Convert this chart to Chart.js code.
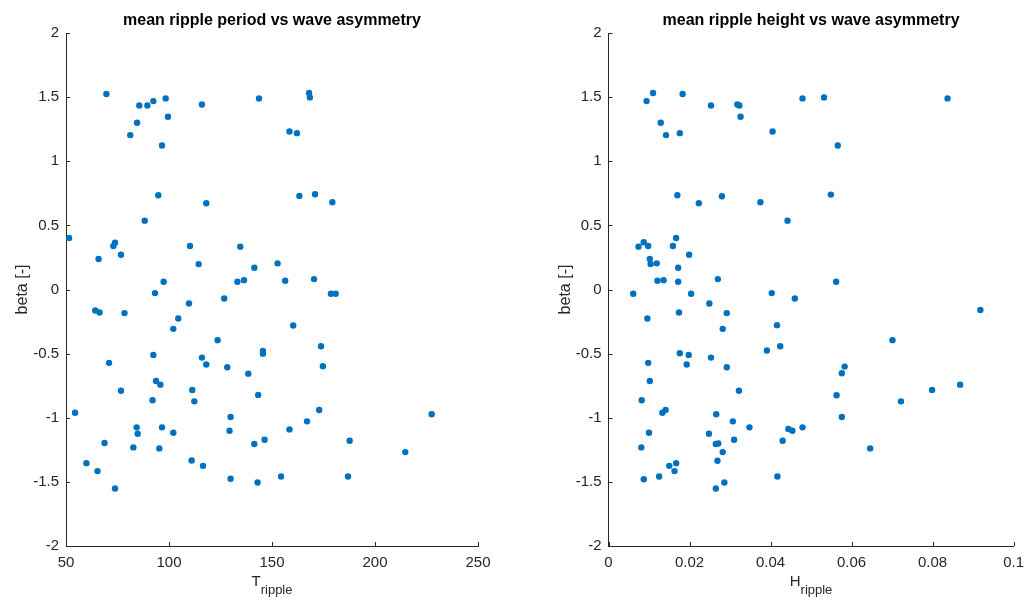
<!DOCTYPE html>
<html>
<head>
<meta charset="utf-8">
<title>ripple vs wave asymmetry</title>
<script src="https://cdn.jsdelivr.net/npm/chart.js@4.4.0/dist/chart.umd.min.js"></script>
<style>
    body { margin: 0; background: #fff; width: 1032px; height: 601px; overflow: hidden; position: relative; }
    .box { position: absolute; top: 0; width: 516px; height: 601px; }
</style>
</head>
<body>
<div class="box" style="left:0"><canvas id="periodChart" width="516" height="601"></canvas></div>
<div class="box" style="left:516px"><canvas id="heightChart" width="516" height="601"></canvas></div>
<script>
// mean ripple period (T_ripple) against beta
var period = [69.6, 85.6, 89.5, 92.4, 98.4, 116.0, 143.7, 84.5, 81.2, 99.5, 96.6, 94.8, 118.1, 88.2,
    51.5, 65.8, 73.0, 73.8, 76.7, 110.2, 114.4, 134.6, 141.4, 133.2, 136.4, 97.4, 93.2, 109.7, 126.8,
    64.2, 66.3, 78.4, 104.5, 102.1, 123.6, 92.4, 116.0, 118.1, 128.3, 138.5, 70.9, 93.7, 95.8, 76.7,
    111.3, 112.3, 92.0, 143.3, 54.4, 129.9, 84.3, 84.8, 96.6, 102.1, 129.4, 68.7, 82.7, 95.3, 141.4,
    59.9, 65.3, 111.0, 116.5, 73.8, 129.9, 143.0, 168.0, 168.4, 158.5, 162.1, 163.3, 170.9, 179.3,
    152.7, 156.4, 170.4, 178.6, 180.9, 160.3, 145.6, 145.6, 173.8, 174.7, 172.9, 167.0, 158.5, 146.4,
    187.7, 227.5, 214.7, 154.4, 186.9];
var betaT = [1.524, 1.435, 1.435, 1.469, 1.490, 1.443, 1.490, 1.300, 1.204, 1.347, 1.123, 0.735, 0.673, 0.537,
    0.402, 0.238, 0.339, 0.365, 0.271, 0.339, 0.198, 0.334, 0.170, 0.060, 0.073, 0.060, -0.028, -0.109, -0.070,
    -0.164, -0.179, -0.184, -0.226, -0.307, -0.395, -0.510, -0.531, -0.585, -0.606, -0.656, -0.572, -0.713, -0.742, -0.789,
    -0.783, -0.872, -0.864, -0.822, -0.961, -0.994, -1.075, -1.125, -1.075, -1.117, -1.101, -1.197, -1.231, -1.239, -1.205,
    -1.354, -1.416, -1.333, -1.375, -1.552, -1.476, -1.505, 1.532, 1.498, 1.232, 1.219, 0.730, 0.743, 0.680,
    0.204, 0.068, 0.081, -0.033, -0.033, -0.281, -0.479, -0.500, -0.442, -0.598, -0.940, -1.028, -1.091, -1.171,
    -1.179, -0.973, -1.268, -1.458, -1.458];

// mean ripple height (H_ripple) against beta
var rippleHeight = [0.0110, 0.0094, 0.0183, 0.0253, 0.0318, 0.0323, 0.0479, 0.0129, 0.0142, 0.0176, 0.0326, 0.0405,
    0.0170, 0.0223, 0.0280, 0.0375, 0.0442, 0.0074, 0.0087, 0.0098, 0.0167, 0.0159, 0.0102, 0.0104, 0.0119,
    0.0199, 0.0172, 0.0121, 0.0136, 0.0172, 0.0270, 0.0061, 0.0204, 0.0249, 0.0403, 0.0460, 0.0532, 0.0837,
    0.0566, 0.0549, 0.0562, 0.0918, 0.0096, 0.0174, 0.0292, 0.0282, 0.0416, 0.0424, 0.0391, 0.0098, 0.0176,
    0.0198, 0.0193, 0.0253, 0.0292, 0.0102, 0.0322, 0.0082, 0.0133, 0.0141, 0.0266, 0.0307, 0.0348, 0.0444,
    0.0454, 0.0479, 0.0100, 0.0248, 0.0310, 0.0430, 0.0265, 0.0271, 0.0081, 0.0282, 0.0269, 0.0150, 0.0167,
    0.0163, 0.0125, 0.0087, 0.0417, 0.0286, 0.0265, 0.0701, 0.0583, 0.0576, 0.0563, 0.0799, 0.0868, 0.0722,
    0.0576, 0.0646];
var betaH = [1.532, 1.469, 1.524, 1.435, 1.443, 1.435, 1.490, 1.300, 1.204, 1.219, 1.347, 1.232,
    0.735, 0.673, 0.727, 0.680, 0.537, 0.334, 0.368, 0.339, 0.402, 0.339, 0.238, 0.198, 0.204,
    0.271, 0.170, 0.068, 0.073, 0.060, 0.081, -0.033, -0.033, -0.109, -0.028, -0.070, 1.498, 1.490,
    1.123, 0.740, 0.060, -0.160, -0.226, -0.179, -0.184, -0.307, -0.278, -0.442, -0.476, -0.572, -0.497,
    -0.510, -0.585, -0.531, -0.606, -0.713, -0.789, -0.864, -0.961, -0.940, -0.973, -1.028, -1.075, -1.088,
    -1.101, -1.075, -1.117, -1.125, -1.171, -1.179, -1.205, -1.200, -1.231, -1.268, -1.335, -1.375, -1.354,
    -1.416, -1.458, -1.479, -1.458, -1.505, -1.552, -0.395, -0.601, -0.653, -0.825, -0.783, -0.742, -0.872,
    -0.994, -1.239];

var betaTicks = [-2, -1.5, -1, -0.5, 0, 0.5, 1, 1.5, 2];
var periodTicks = [50, 100, 150, 200, 250];
var heightTicks = [0, 0.02, 0.04, 0.06, 0.08, 0.1];

var axisColor = "#262626";
var dotColor = "#0072BD";
var fontFamily = "'Liberation Sans', Arial, Helvetica, sans-serif";

function toPoints(xs, ys) {
    return xs.map(function (x, i) { return { x: x, y: ys[i] }; });
}

// inward ticks, titles and the subscripted x label, drawn MATLAB style
var matlabLook = {
    id: "matlabLook",
    afterDraw: function (chart, args, opts) {
        var ctx = chart.ctx;
        var a = chart.chartArea;
        var xs = chart.scales.x, ys = chart.scales.y;
        ctx.save();
        ctx.strokeStyle = axisColor;
        ctx.lineWidth = 1;
        ctx.beginPath();
        xs.ticks.forEach(function (t) {
            var px = Math.round(xs.getPixelForValue(t.value)) + 0.5;
            ctx.moveTo(px, a.bottom);
            ctx.lineTo(px, a.bottom - 4);
        });
        ys.ticks.forEach(function (t) {
            var py = Math.round(ys.getPixelForValue(t.value)) + 0.5;
            ctx.moveTo(a.left, py);
            ctx.lineTo(a.left + 4, py);
        });
        ctx.stroke();

        var cx = (a.left + a.right) / 2;
        ctx.textAlign = "center";
        ctx.textBaseline = "alphabetic";
        ctx.fillStyle = "#000";
        ctx.font = "bold 16px " + fontFamily;
        ctx.fillText(opts.title, cx, 25);

        ctx.fillStyle = axisColor;
        ctx.save();
        ctx.translate(opts.yTitleX, (a.top + a.bottom) / 2);
        ctx.rotate(-Math.PI / 2);
        ctx.font = "16px " + fontFamily;
        ctx.fillText("beta [-]", 0, 0);
        ctx.restore();

        // x label with subscript
        ctx.textAlign = "left";
        ctx.font = "15px " + fontFamily;
        var wMain = ctx.measureText(opts.xMain).width;
        ctx.font = "13px " + fontFamily;
        var wSub = ctx.measureText("ripple").width;
        var x0 = cx - (wMain + wSub) / 2;
        ctx.font = "15px " + fontFamily;
        ctx.fillText(opts.xMain, x0, 586);
        ctx.font = "13px " + fontFamily;
        ctx.fillText("ripple", x0 + wMain, 594);
        ctx.restore();
    }
};

function makeChart(id, xData, yData, xTicks, xMin, xMax, leftW, rightPad, opts) {
    return new Chart(document.getElementById(id), {
        type: "scatter",
        data: {
            datasets: [{
                data: toPoints(xData, yData),
                backgroundColor: dotColor,
                borderWidth: 0,
                pointRadius: 3.2,
            }],
        },
        options: {
            responsive: false,
            animation: false,
            layout: { padding: { top: 33, right: rightPad, left: 0, bottom: 0 } },
            plugins: {
                legend: { display: false },
                tooltip: { enabled: false },
                matlabLook: opts,
            },
            scales: {
                x: {
                    type: "linear",
                    min: xMin,
                    max: xMax,
                    grid: { display: false, drawTicks: false },
                    border: { display: true, color: axisColor, width: 1 },
                    afterBuildTicks: function (s) {
                        s.ticks = xTicks.map(function (v) { return { value: v }; });
                    },
                    afterFit: function (s) { s.height = 55; },
                    ticks: {
                        padding: 8,
                        maxRotation: 0,
                        color: axisColor,
                        font: { family: fontFamily, size: 15 },
                        callback: function (v) { return String(Number(v.toFixed(2))); },
                    },
                },
                y: {
                    type: "linear",
                    min: -2,
                    max: 2,
                    grid: { display: false, drawTicks: false },
                    border: { display: true, color: axisColor, width: 1 },
                    afterBuildTicks: function (s) {
                        s.ticks = betaTicks.map(function (v) { return { value: v }; });
                    },
                    afterFit: function (s) { s.width = leftW; },
                    ticks: {
                        padding: 7,
                        color: axisColor,
                        font: { family: fontFamily, size: 15 },
                        callback: function (v) { return String(v); },
                    },
                },
            },
        },
        plugins: [matlabLook],
    });
}

document.addEventListener("DOMContentLoaded", function () {
    makeChart("periodChart", period, betaT, periodTicks, 50, 250, 66, 38,
        { title: "mean ripple period vs wave asymmetry", xMain: "T", yTitleX: 27 });
    makeChart("heightChart", rippleHeight, betaH, heightTicks, 0, 0.1, 92.5, 11.5,
        { title: "mean ripple height vs wave asymmetry", xMain: "H", yTitleX: 570 - 516 });
});
</script>
</body>
</html>
